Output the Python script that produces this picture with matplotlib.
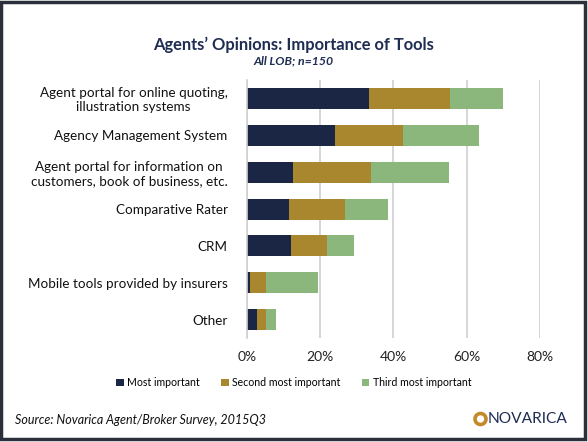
import numpy as np
import matplotlib.pyplot as plt
from matplotlib.patches import Rectangle, Ellipse

plt.rcParams['font.family'] = ['Lato', 'DejaVu Sans']

categories = ['Agent portal for online quoting,\nillustration systems',
              'Agency Management System',
              'Agent portal for information on\ncustomers, book of business, etc.',
              'Comparative Rater',
              'CRM',
              'Mobile tools provided by insurers',
              'Other']
most = [33.3, 24.0, 12.6, 11.4, 12.0, 0.7, 2.7]
second = [22.1, 18.7, 21.4, 15.3, 10.0, 4.6, 2.6]
third = [14.6, 20.6, 21.3, 11.9, 7.2, 14.0, 2.6]
series_names = ['Most important', 'Second most important', 'Third most important']
colors = ['#1b2544', '#a8872f', '#8bb77d']
navy = '#1f2d52'

fig = plt.figure(figsize=(5.88, 4.42), dpi=100)
ax = fig.add_axes([0.420, 0.235, 0.498, 0.584])

y = np.arange(len(categories))
left = np.zeros(len(categories))
handles = []
for vals, name, c in zip([most, second, third], series_names, colors):
    vals = np.array(vals) / 100
    b = ax.barh(y, vals, left=left, height=0.57, color=c, label=name)
    handles.append(b)
    left += vals

ax.set_xlim(0, 0.8)
ax.set_ylim(len(categories) - 0.5, -0.5)
ax.set_xticks(np.arange(0, 0.81, 0.2))
ax.set_xticklabels(['0%', '20%', '40%', '60%', '80%'])
ax.set_yticks(y)
ax.set_yticklabels(categories, ha='right', multialignment='center')
ax.tick_params(axis='y', length=0, pad=14, labelsize=9.7, labelcolor='#111111')
ax.tick_params(axis='x', length=0, pad=9, labelsize=10, labelcolor='#222222')
ax.grid(axis='x', color='#d0d0d0', linewidth=1.2)
ax.set_axisbelow(True)
for s in ['top', 'right', 'bottom']:
    ax.spines[s].set_visible(False)
ax.spines['left'].set_color('#d0d0d0')
ax.spines['left'].set_linewidth(1.2)

fig.legend(handles=handles, loc='center', bbox_to_anchor=(0.5, 0.134), ncol=3,
           frameon=False, fontsize=7.6, handlelength=0.7, handleheight=0.7,
           handletextpad=0.35, columnspacing=2.0)

fig.text(0.5, 0.898, 'Agents\u2019 Opinions: Importance of Tools', ha='center', va='center',
         fontsize=11.9, fontweight='bold', color=navy)
fig.text(0.5, 0.862, 'All LOB; n=150', ha='center', va='center', fontsize=8.8,
         fontweight='bold', style='italic', color=navy)
fig.text(0.025, 0.050, 'Source: Novarica Agent/Broker Survey, 2015Q3', ha='left', va='center',
         fontsize=9, style='italic', color='#111111')

# logo
fig.patches.append(Ellipse((480.5 / 588, 1 - 419 / 442), 11 / 588, 11 / 442,
                           transform=fig.transFigure, fill=False,
                           edgecolor='#c48a2a', linewidth=2.6))
fig.text(488 / 588, 1 - 419 / 442, 'NOVARICA', ha='left', va='center',
         fontsize=11.2, color=navy)

fig.patches.append(Rectangle((0.002, 0.006), 0.993, 0.99, transform=fig.transFigure,
                             fill=False, edgecolor='#2a2f3a', linewidth=2.5))

fig.savefig('out.png', dpi=100)
